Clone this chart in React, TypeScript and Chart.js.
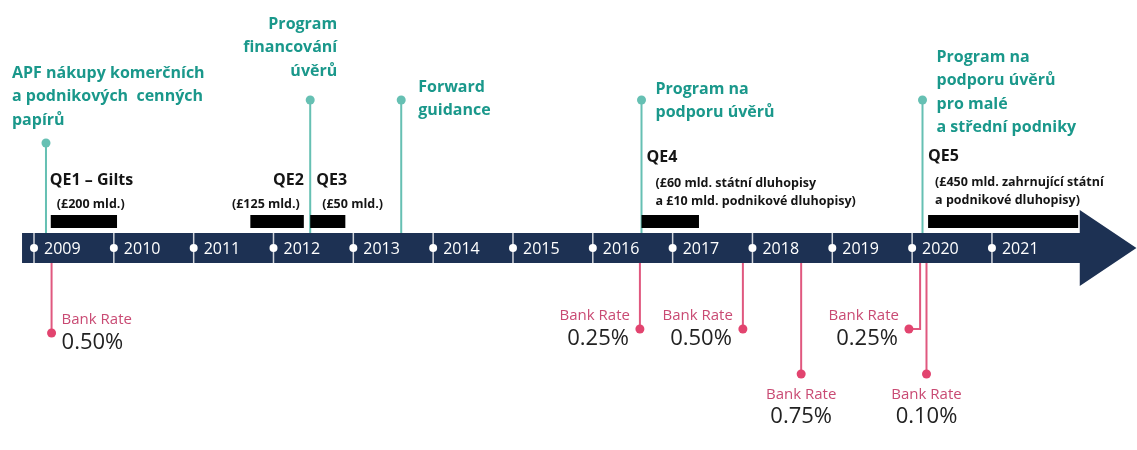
import React, { useEffect, useRef } from "react";
import { Chart, registerables } from "chart.js";

Chart.register(...registerables);

// ---------------- DATA ----------------
const YEARS = [2009, 2010, 2011, 2012, 2013, 2014, 2015, 2016, 2017, 2018, 2019, 2020, 2021];
const YEAR_LABELS = ["2009", "2010", "2011", "2012", "2013", "2014", "2015", "2016", "2017", "2018", "2019", "2020", "2021"];

// QE programmes (start / end as decimal years)
const QE_NAMES = ["QE1 – Gilts", "QE2", "QE3", "QE4", "QE5"];
const QE_AMOUNTS = [
  ["(£200 mld.)"],
  ["(£125 mld.)"],
  ["(£50 mld.)"],
  ["(£60 mld. státní dluhopisy", "a £10 mld. podnikové dluhopisy)"],
  ["(£450 mld. zahrnující státní", "a podnikové dluhopisy)"],
];
const QE_START = [2009.21, 2011.71, 2012.46, 2016.61, 2020.2];
const QE_END = [2010.04, 2012.38, 2012.9, 2017.33, 2022.08];

// Policy events (teal)
const EVENT_LABELS = [
  ["APF nákupy komerčních", "a podnikových  cenných", "papírů"],
  ["Program", "financování", "úvěrů"],
  ["Forward", "guidance"],
  ["Program na", "podporu úvěrů"],
  ["Program na", "podporu úvěrů", "pro malé", "a střední podniky"],
];
const EVENT_DATES = [2009.15, 2012.46, 2013.6, 2016.61, 2020.13];

// Bank Rate changes (pink)
const RATE_TITLE = "Bank Rate";
const RATE_VALUES = ["0.50%", "0.25%", "0.50%", "0.75%", "0.25%", "0.10%"];
const RATE_DATES = [2009.22, 2016.59, 2017.88, 2018.61, 2020.1, 2020.18];

// ---------------- LAYOUT ----------------
const X_MIN = 2008.574;
const X_MAX = 2022.817;
const BAND_START = 2008.85;
const BAND_END = 2022.1;
const ARROW_TIP = 2022.81;
const BAND_TOP = 233;
const BAND_BOTTOM = 263;
const ARROW_TOP = 210;
const ARROW_BOTTOM = 286;
const QE_BAR_Y = 221.5;
const EVENT_LEVELS = [143, 100, 100, 100, 100];
const EVENT_ALIGN = ["left", "right", "left", "left", "left"];
const EVENT_DX = [-34, 27, 17, 14, 14];
const EVENT_DY = [-70, -76, -13, -11, -43];
const EVENT_LINE_H = 23.5;
const RATE_LEVELS = [333, 329, 329, 374, 329, 374];
const RATE_PLACE = ["right", "left", "left", "below", "left", "below"];
const RATE_DOT_SHIFT = [0, 0, 0, 0, -0.14, 0];
const QE_NAME_Y = [180, 180, 180, 157, 156];
const QE_AMT_Y = [204, 204, 204, 183, 182];
const QE_ALIGN = ["left", "right", "left", "left", "left"];
const QE_NAME_DX = [-1, 0, 6, 5, 0];
const QE_AMT_DX = [6, -4, 12, 14, 7];

// ---------------- STYLE ----------------
const NAVY = "#1d3153";
const TEAL_TEXT = "#1a988b";
const TEAL_LINE = "#66c0b3";
const PINK_LINE = "#e0587f";
const PINK_DOT = "#e2446f";
const PINK_TEXT = "#c94a73";
const FONT = "'Open Sans', 'Noto Sans', sans-serif";

const timelinePlugin = {
  id: "timeline",
  beforeDatasetsDraw(chart: any) {
    const { ctx } = chart;
    const x = chart.scales.x;
    const y = chart.scales.y;
    const mid = (BAND_TOP + BAND_BOTTOM) / 2;
    ctx.save();
    ctx.fillStyle = NAVY;
    ctx.beginPath();
    ctx.moveTo(x.getPixelForValue(BAND_START), y.getPixelForValue(BAND_TOP));
    ctx.lineTo(x.getPixelForValue(BAND_END), y.getPixelForValue(BAND_TOP));
    ctx.lineTo(x.getPixelForValue(BAND_END), y.getPixelForValue(ARROW_TOP));
    ctx.lineTo(x.getPixelForValue(ARROW_TIP), y.getPixelForValue(mid));
    ctx.lineTo(x.getPixelForValue(BAND_END), y.getPixelForValue(ARROW_BOTTOM));
    ctx.lineTo(x.getPixelForValue(BAND_END), y.getPixelForValue(BAND_BOTTOM));
    ctx.lineTo(x.getPixelForValue(BAND_START), y.getPixelForValue(BAND_BOTTOM));
    ctx.closePath();
    ctx.fill();

    const top = y.getPixelForValue(BAND_TOP);
    const bot = y.getPixelForValue(BAND_BOTTOM);
    const ym = y.getPixelForValue(mid);
    YEARS.forEach((yr, i) => {
      const px = x.getPixelForValue(yr);
      ctx.strokeStyle = "rgba(255,255,255,0.8)";
      ctx.lineWidth = 1.5;
      ctx.beginPath();
      ctx.moveTo(px, top);
      ctx.lineTo(px, bot);
      ctx.stroke();
      ctx.fillStyle = "#ffffff";
      ctx.beginPath();
      ctx.arc(px, ym, 4, 0, Math.PI * 2);
      ctx.fill();
      ctx.font = `16px ${FONT}`;
      ctx.textAlign = "left";
      ctx.textBaseline = "middle";
      ctx.fillText(YEAR_LABELS[i], px + 10, ym + 1);
    });
    ctx.restore();
  },
  afterDatasetsDraw(chart: any) {
    const { ctx } = chart;
    const x = chart.scales.x;
    const y = chart.scales.y;
    ctx.save();
    ctx.textBaseline = "middle";

    // Teal event labels
    ctx.fillStyle = TEAL_TEXT;
    ctx.font = `bold 16px ${FONT}`;
    EVENT_LABELS.forEach((lines, i) => {
      const px = x.getPixelForValue(EVENT_DATES[i]) + EVENT_DX[i];
      const py = y.getPixelForValue(EVENT_LEVELS[i]) + EVENT_DY[i];
      ctx.textAlign = EVENT_ALIGN[i];
      lines.forEach((t, j) => ctx.fillText(t, px, py + j * EVENT_LINE_H));
    });

    // QE labels
    ctx.fillStyle = "#151515";
    QE_NAMES.forEach((name, i) => {
      const anchor = QE_ALIGN[i] === "right" ? QE_END[i] : QE_START[i];
      const px = x.getPixelForValue(anchor);
      ctx.textAlign = QE_ALIGN[i];
      ctx.font = `bold 16px ${FONT}`;
      ctx.fillText(name, px + QE_NAME_DX[i], y.getPixelForValue(QE_NAME_Y[i]));
      ctx.font = `bold 12.5px ${FONT}`;
      QE_AMOUNTS[i].forEach((t, j) =>
        ctx.fillText(t, px + QE_AMT_DX[i], y.getPixelForValue(QE_AMT_Y[i]) + j * 18)
      );
    });

    // Bank Rate labels
    RATE_VALUES.forEach((val, i) => {
      const dx = x.getPixelForValue(RATE_DATES[i] + RATE_DOT_SHIFT[i]);
      const dy = y.getPixelForValue(RATE_LEVELS[i]);
      let tx = dx;
      let y1 = dy - 13;
      let y2 = dy + 10;
      if (RATE_PLACE[i] === "right") {
        ctx.textAlign = "left";
        tx = dx + 10;
      } else if (RATE_PLACE[i] === "left") {
        ctx.textAlign = "right";
        tx = dx - 10;
      } else {
        ctx.textAlign = "center";
        y1 = dy + 21;
        y2 = dy + 43;
      }
      ctx.fillStyle = PINK_TEXT;
      ctx.font = `15px ${FONT}`;
      ctx.fillText(RATE_TITLE, tx, y1);
      ctx.fillStyle = "#222222";
      ctx.font = `22px ${FONT}`;
      ctx.fillText(val, RATE_PLACE[i] === "left" ? tx - 1 : tx, y2);
    });
    ctx.restore();
  },
};

export default function App() {
  const ref = useRef<HTMLCanvasElement | null>(null);

  useEffect(() => {
    if (!ref.current) return;
    const datasets: any[] = [];

    QE_START.forEach((s, i) => {
      datasets.push({
        label: QE_NAMES[i],
        data: [
          { x: s, y: QE_BAR_Y },
          { x: QE_END[i], y: QE_BAR_Y },
        ],
        showLine: true,
        borderColor: "#000000",
        borderWidth: 13,
        borderCapStyle: "butt",
        pointRadius: 0,
      });
    });

    EVENT_DATES.forEach((d, i) => {
      datasets.push({
        label: EVENT_LABELS[i].join(" "),
        data: [
          { x: d, y: EVENT_LEVELS[i] },
          { x: d, y: BAND_TOP },
        ],
        showLine: true,
        borderColor: TEAL_LINE,
        borderWidth: 2,
        pointRadius: [4.5, 0],
        pointBackgroundColor: TEAL_LINE,
        pointBorderWidth: 0,
      });
    });

    RATE_DATES.forEach((d, i) => {
      const pts =
        RATE_DOT_SHIFT[i] !== 0
          ? [
              { x: d + RATE_DOT_SHIFT[i], y: RATE_LEVELS[i] },
              { x: d, y: RATE_LEVELS[i] },
              { x: d, y: BAND_BOTTOM },
            ]
          : [
              { x: d, y: RATE_LEVELS[i] },
              { x: d, y: BAND_BOTTOM },
            ];
      datasets.push({
        label: RATE_TITLE + " " + RATE_VALUES[i],
        data: pts,
        showLine: true,
        borderColor: PINK_LINE,
        borderWidth: 2,
        pointRadius: pts.map((_, k) => (k === 0 ? 4.5 : 0)),
        pointBackgroundColor: PINK_DOT,
        pointBorderWidth: 0,
      });
    });

    const chart = new Chart(ref.current, {
      type: "scatter",
      data: { datasets },
      options: {
        responsive: false,
        maintainAspectRatio: false,
        animation: false,
        devicePixelRatio: 1,
        events: [],
        layout: { padding: 0, autoPadding: false },
        plugins: { legend: { display: false }, tooltip: { enabled: false } },
        scales: {
          x: { type: "linear", min: X_MIN, max: X_MAX, display: false },
          y: { type: "linear", min: 0, max: 450, reverse: true, display: false },
        },
      },
      plugins: [timelinePlugin],
    } as any);

    return () => chart.destroy();
  }, []);

  return (
    <div style={{ position: "absolute", left: 0, top: 0, width: 1137, height: 450, background: "#fff" }}>
      <canvas ref={ref} width={1137} height={450} />
    </div>
  );
}
